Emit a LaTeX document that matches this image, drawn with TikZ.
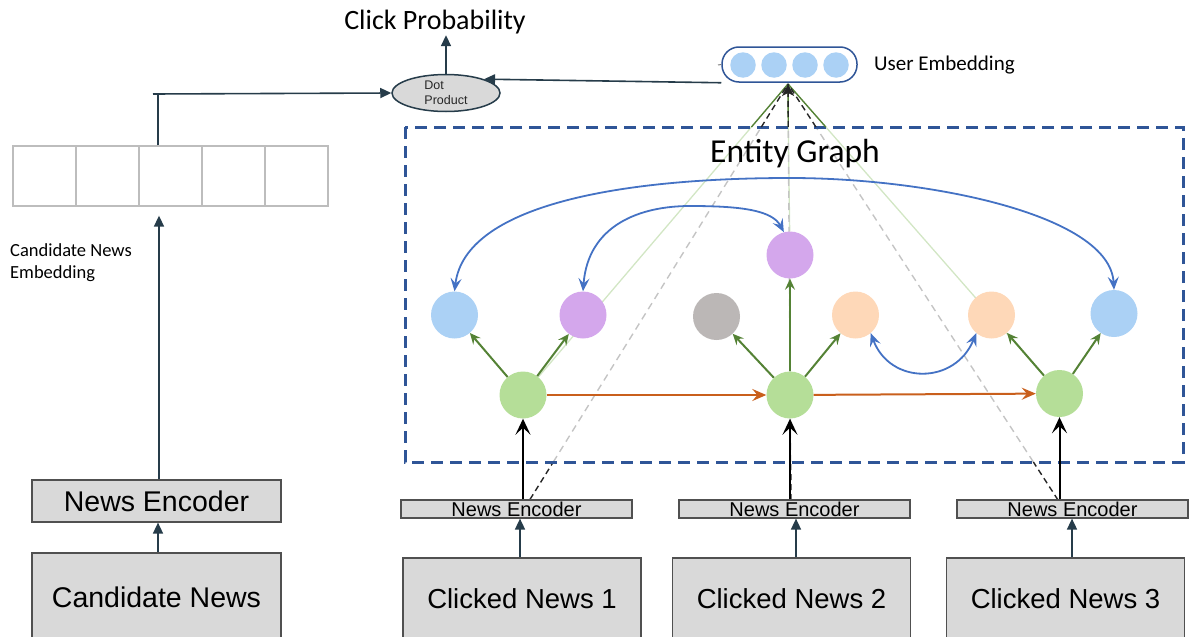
\documentclass[tikz,border=0pt]{standalone}
\usepackage{fontspec}
\usetikzlibrary{arrows.meta,shapes.geometric,calc}
\newfontfamily\calfont{Carlito}
\newfontfamily\arialfont{Liberation Sans}
\definecolor{slate}{HTML}{263C4A}
\definecolor{boxgray}{HTML}{D9D9D9}
\definecolor{boxedge}{HTML}{505050}
\definecolor{celledge}{HTML}{BDBDBD}
\definecolor{navy}{HTML}{2F5597}
\definecolor{entblue}{HTML}{ABD1F5}
\definecolor{entpurple}{HTML}{D4A7EC}
\definecolor{entgray}{HTML}{BBB7B6}
\definecolor{entpeach}{HTML}{FED8B8}
\definecolor{entgreen}{HTML}{B5DE98}
\definecolor{darkgreen}{HTML}{548235}
\definecolor{palegreen}{HTML}{D2E6C4}
\definecolor{relorange}{HTML}{C95F1C}
\definecolor{relblue}{HTML}{4472C4}
\definecolor{palegray}{HTML}{C4C4C4}
\pgfdeclarelayer{bg}
\pgfsetlayers{bg,main}

\begin{document}
\begin{tikzpicture}[x=1pt,y=-1pt,
  lbl/.style={inner sep=0pt},
  cell/.style={draw=celledge,line width=1.3pt,minimum width=63pt,minimum height=60pt,inner sep=0pt},
  graybox/.style={draw=boxedge,line width=1.2pt,fill=boxgray,inner sep=0pt},
  slateline/.style={draw=slate,line width=1.6pt},
  slatearrow/.style={slateline,-{Triangle[length=11pt,width=10pt]}},
  ent/.style={circle,minimum size=47pt,inner sep=0pt,draw=none},
  garrow/.style={draw=darkgreen,line width=2pt,-{Stealth[length=11pt,width=10pt,inset=4pt]}},
  karrow/.style={draw=black,line width=2pt,-{Stealth[length=16pt,width=15pt,inset=7pt]}},
  oarrow/.style={draw=relorange,line width=2pt,-{Stealth[length=14pt,width=12pt,inset=5pt]}},
  barrow/.style={draw=relblue,line width=1.8pt,{Stealth[length=13pt,width=11pt,inset=5pt]}-{Stealth[length=13pt,width=11pt,inset=5pt]}},
  ebox/.style={draw=navy,line width=3pt,dash pattern=on 12pt off 7pt},
  darkdash/.style={draw=black!85,line width=1.4pt,dash pattern=on 6pt off 4pt},
  lightdash/.style={draw=palegray,line width=1.4pt,dash pattern=on 7pt off 5pt},
  darkgreenline/.style={draw=darkgreen,line width=1.4pt},
  lightgreenline/.style={draw=palegreen,line width=1.3pt},
  hubtip/.style={-{Stealth[length=12pt,width=12pt,inset=3pt]}}
]
\useasboundingbox (0,0) rectangle (1192,637);
\clip (0,0) rectangle (1192,637);

% ---------- scoring head ----------
\node[lbl,font=\calfont\fontsize{28}{30}\selectfont] (cp) at (435,22) {Click Probability};
\node[ellipse,draw=slate,line width=1.5pt,fill=boxgray,minimum width=108pt,minimum height=37pt,inner sep=0pt,
      align=left,font=\arialfont\fontsize{12.5}{14.5}\selectfont,text=black!85] (dot) at (446,93) {Dot\\Product};
\node[draw=navy,line width=1.5pt,rounded corners=17pt,minimum width=135pt,minimum height=35pt,inner sep=0pt] (ue) at (789.5,64.5) {};
\foreach \i/\x in {1/743,2/774,3/805,4/836}
  \node[circle,fill=entblue,minimum size=25.5pt,inner sep=0pt] (u\i) at (\x,65) {};
\node[lbl,anchor=west,font=\calfont\fontsize{21}{23}\selectfont] (uel) at (874,65) {User Embedding};
\coordinate (stub) at (718,65);
\draw[draw=gray,line width=1pt] (stub) -- (ue.west);

% ---------- candidate side ----------
\foreach \i/\x in {1/44.5,2/107.5,3/170.5,4/233.5,5/296.5}
  \node[cell] (e\i) at (\x,176) {};
\node[lbl,anchor=west,align=left,font=\calfont\fontsize{18.5}{22}\selectfont] (cel) at (10,263) {Candidate News\\Embedding};
\node[graybox,minimum width=249pt,minimum height=42pt,font=\arialfont\fontsize{28.5}{30}\selectfont] (nenc) at (156.5,501) {News Encoder};
\node[graybox,minimum width=249pt,minimum height=88pt,font=\arialfont\fontsize{28.5}{30}\selectfont] (cand) at (156.5,597) {Candidate News};

\coordinate (j) at (158,94);
\coordinate (jstub) at (153,94);
\draw[slateline] (e3.north -| j) -- (j);
\draw[slatearrow] (jstub) -- (dot.west);
\draw[slatearrow] (ue.south west) -- (dot.20);
\draw[slatearrow,shorten >=1pt] (dot.north) -- (cp.south -| dot.north);
\draw[slatearrow,shorten >=9pt] (nenc.north -| 159,0) -- (e3.south -| 159,0);
\draw[slatearrow] (cand.north -| 158,0) -- (nenc.south -| 158,0);

% ---------- clicked news side ----------
\foreach \i/\x/\ex in {1/522/516.5,2/791.5/794.5,3/1065.5/1072.5}{
  \node[graybox,minimum width=238pt,minimum height=82pt,font=\arialfont\fontsize{27.5}{29}\selectfont] (cn\i) at (\x,599) {Clicked News \i};
  \node[graybox,minimum width=231pt,minimum height=18pt,font=\arialfont\fontsize{20}{20}\selectfont] (ne\i) at (\ex,509) {News Encoder};
}
\draw[slatearrow] (cn1.north -| 520,0) -- (ne1.south -| 520,0);
\draw[slatearrow] (cn2.north -| 796,0) -- (ne2.south -| 796,0);
\draw[slatearrow] (cn3.north -| 1072,0) -- (ne3.south -| 1072,0);

% ---------- entity graph ----------
\coordinate (tl) at (405,127);
\coordinate (tr) at (1183,127);
\coordinate (bl) at (405,462);
\coordinate (br) at (1183,462);
\draw[ebox] (tl) rectangle (br);
\node[lbl,font=\calfont\fontsize{33.5}{35}\selectfont] (eg) at (795,154) {Entity Graph};

\node[ent,fill=entblue]   (b1) at (454.5,315) {};
\node[ent,fill=entpurple] (p1) at (583,315) {};
\node[ent,fill=entgray]   (gy) at (716.5,316.5) {};
\node[ent,fill=entpurple] (p2) at (790,255) {};
\node[ent,fill=entpeach]  (o1) at (855.5,315) {};
\node[ent,fill=entpeach]  (o2) at (991.5,315) {};
\node[ent,fill=entblue]   (b2) at (1114,313.5) {};
\node[ent,fill=entgreen]  (g1) at (523,395) {};
\node[ent,fill=entgreen]  (g2) at (790,395) {};
\node[ent,fill=entgreen]  (g3) at (1059.5,393.5) {};

% user aggregation lines (behind the entities)
\coordinate (hub) at (788,84);
\coordinate (d1) at ($(ne1.north)+(13.5,0)$);
\coordinate (d2) at (791,500);
\coordinate (d3) at (1058,500);
\foreach \s in {d1,d2,d3,g1,g2,g3}{
  \coordinate (\s t) at (intersection of \s--hub and tl--tr);
}
\foreach \s in {d1,d2,d3}{
  \coordinate (\s b) at (intersection of \s--hub and bl--br);
}
\begin{pgfonlayer}{bg}
  \draw[lightgreenline] (g1) -- (g1t);
  \draw[lightgreenline] (p2) -- (g2t);
  \draw[lightgreenline] (g3) -- (g3t);
  \draw[lightdash] (d1b) -- (d1t);
  \draw[lightdash] (d2b) -- (d2t);
  \draw[lightdash] (d3b) -- (d3t);
  \draw[darkdash] (d1) -- (d1b);
  \draw[darkdash] (d2) -- (d2b);
  \draw[darkdash] (d3) -- (d3b);
\end{pgfonlayer}
\draw[darkgreenline] (g1t) -- (hub);
\draw[darkgreenline] (g2t) -- (hub);
\draw[darkgreenline] (g3t) -- (hub);
\draw[darkdash] (d1t) -- (hub);
\draw[darkdash] (d3t) -- (hub);
\draw[darkdash,hubtip] (d2t) -- (hub);

% encoder outputs feeding the graph
\draw[karrow] (g1 |- ne1.north) -- (g1);
\draw[karrow] (g2 |- ne2.north) -- (g2);
\draw[karrow] (g3 |- ne3.north) -- (g3);

% entity links
\draw[garrow] (g1) -- (b1);
\draw[garrow] (g1) -- (p1);
\draw[garrow] (g2) -- (gy);
\draw[garrow] (g2) -- (p2);
\draw[garrow] (g2) -- (o1);
\draw[garrow] (g3) -- (o2);
\draw[garrow] (g3) -- (b2);
\draw[oarrow] (g1) -- (g2);
\draw[oarrow] (g2) -- (g3);

% entity relations
\draw[barrow] (b1.north) .. controls (465,205) and (620,178) .. (790,178)
                          .. controls (930,178) and (1110,215) .. (b2.north);
\draw[barrow] (p1.north) .. controls (588,225) and (640,206) .. (690,206)
                          .. controls (740,206) and (772,210) .. (p2.105);
\draw[barrow] (o1.-50) .. controls (890,385) and (955,385) .. (o2.-130);
\end{tikzpicture}
\end{document}
